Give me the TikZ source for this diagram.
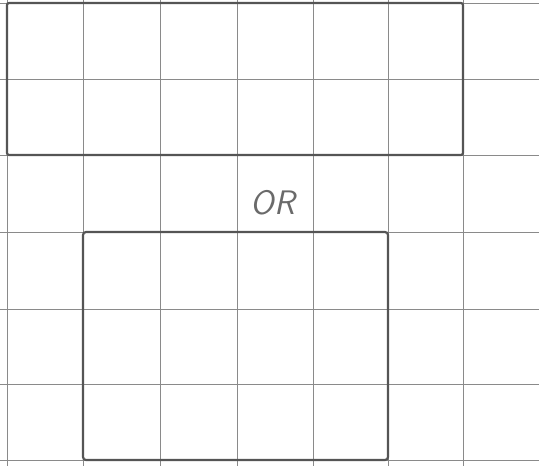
\documentclass[tikz,border=0pt]{standalone}
\usepackage{tikz}
\begin{document}
\begin{tikzpicture}[x=1pt,y=-1pt,font=\sffamily]
\definecolor{paper}{HTML}{FFFFFF}\definecolor{rule}{HTML}{8A8A8A}
\definecolor{ink}{HTML}{555555}\definecolor{inkii}{HTML}{6A6A6A}
\useasboundingbox (0,0) rectangle (539,466);
\fill[paper] (0,0) rectangle (539,466);
% vertical grid lines
\draw[rule,line width=1pt] (7,0) -- (7,466);
\draw[rule,line width=1pt] (83,0) -- (83,466);
\draw[rule,line width=1pt] (160,0) -- (160,466);
\draw[rule,line width=1pt] (237,0) -- (237,466);
\draw[rule,line width=1pt] (313,0) -- (313,466);
\draw[rule,line width=1pt] (388,0) -- (388,466);
\draw[rule,line width=1pt] (463,0) -- (463,466);
% horizontal grid lines
\draw[rule,line width=1pt] (0,3) -- (539,3);
\draw[rule,line width=1pt] (0,79) -- (539,79);
\draw[rule,line width=1pt] (0,155) -- (539,155);
\draw[rule,line width=1pt] (0,232) -- (539,232);
\draw[rule,line width=1pt] (0,309) -- (539,309);
\draw[rule,line width=1pt] (0,384) -- (539,384);
\draw[rule,line width=1pt] (0,460) -- (539,460);
% the two shapes
\draw[ink,line width=2.2pt,rounded corners=2] (7,3) rectangle (463,155);
\draw[ink,line width=2.2pt,rounded corners=3] (83,232) rectangle (388,460);
\node[text=inkii,font=\sffamily\itshape\fontsize{34}{34}\selectfont] (or) at (273,203) {OR};
\end{tikzpicture}
\end{document}
